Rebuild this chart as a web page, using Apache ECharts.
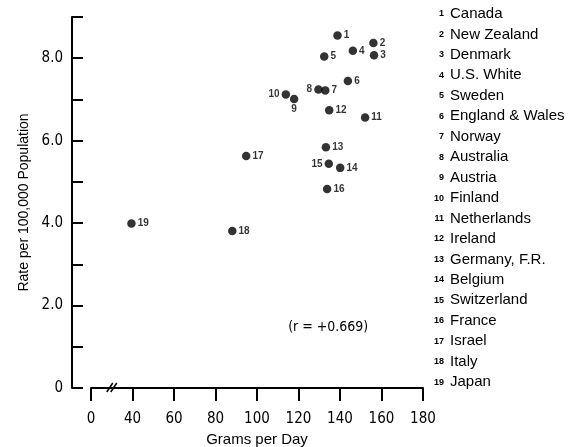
<!DOCTYPE html>
<html>
<head>
<meta charset="utf-8">
<script src="https://cdn.jsdelivr.net/npm/echarts@6/dist/echarts.min.js"></script>
<style>
  html, body { margin: 0; padding: 0; background: #fff; }
  #chart { width: 574px; height: 447px; }
</style>
</head>
<body>
<div id="chart"></div>
<script>
// country names, numbered 1..19 as in the key
const countries = ['Canada', 'New Zealand', 'Denmark', 'U.S. White', 'Sweden', 'England & Wales', 'Norway',
  'Australia', 'Austria', 'Finland', 'Netherlands', 'Ireland', 'Germany, F.R.', 'Belgium', 'Switzerland',
  'France', 'Israel', 'Italy', 'Japan']
// grams per day (x)
const grams = [138.8, 156.1, 156.4, 146.2, 132.4, 143.8, 132.9, 129.6, 117.9, 113.9, 152.1, 134.8,
  133.2, 140.1, 134.6, 133.8, 94.8, 88.1, 39.5]
// rate per 100,000 population (y)
const rates = [8.55, 8.37, 8.07, 8.18, 8.04, 7.45, 7.22, 7.24, 7.01, 7.12, 6.56, 6.74,
  5.84, 5.34, 5.44, 4.83, 5.63, 3.81, 3.99]
const xTicks = [20, 40, 60, 80, 100, 120, 140, 160, 180] // 20 is drawn as "0" (broken axis)
const yTicks = [0, 2, 4, 6, 8]
const rText = '(r = +0.669)'

const font = 'Liberation Sans, Arial, sans-serif'
const narrow = '"DejaVu Sans Condensed", sans-serif'
// label side for points where the number is not on the right
const labelSide = { 8: 'left', 10: 'left', 15: 'left', 9: 'bottom' }

const chart = echarts.init(document.getElementById('chart'))

const points = countries.map((name, i) => {
  const n = i + 1
  const side = labelSide[n] || 'right'
  return {
    name: name,
    value: [grams[i], rates[i]],
    label: { position: side, distance: side === 'bottom' ? 1 : 2 }
  }
})

chart.setOption({
  animation: false,
  backgroundColor: '#fff',
  grid: { left: 91, right: 151, top: 17, bottom: 59, outerBoundsMode: 'none', containLabel: false },
  xAxis: {
    type: 'value',
    min: 20,
    max: 180,
    interval: 20,
    name: 'Grams per Day',
    nameLocation: 'middle',
    nameGap: 44,
    nameTextStyle: { color: '#000', fontSize: 15, fontFamily: font },
    axisLine: { lineStyle: { color: '#000', width: 2 } },
    axisTick: { show: true, inside: false, length: 13, lineStyle: { color: '#000', width: 2 } },
    axisLabel: {
      color: '#000', fontSize: 15, fontFamily: narrow, margin: 24,
      formatter: v => (v === xTicks[0] ? '0' : String(v))
    },
    splitLine: { show: false }
  },
  yAxis: {
    type: 'value',
    min: 0,
    max: 9,
    interval: 1,
    offset: 19,
    name: 'Rate per 100,000 Population',
    nameLocation: 'middle',
    nameGap: 40,
    nameTextStyle: { color: '#000', fontSize: 14, fontFamily: font },
    axisLine: { show: true, lineStyle: { color: '#000', width: 2 } },
    axisTick: { show: true, inside: true, length: 11, lineStyle: { color: '#000', width: 2 } },
    axisLabel: {
      color: '#000', fontSize: 15, fontFamily: narrow, margin: 9,
      formatter: v => (yTicks.indexOf(v) < 0 ? '' : (v === 0 ? '0' : v.toFixed(1)))
    },
    splitLine: { show: false }
  },
  series: [{
    type: 'scatter',
    symbol: 'circle',
    symbolSize: 8.5,
    itemStyle: { color: '#000' },
    label: {
      show: true,
      formatter: p => String(p.dataIndex + 1),
      color: '#000',
      fontSize: 10,
      fontWeight: 'bold',
      fontFamily: font
    },
    data: points
  }]
})

// decorations that depend on the axes: axis break, r value, key
const gx = v => chart.convertToPixel({ xAxisIndex: 0 }, v)
const gy = v => chart.convertToPixel({ yAxisIndex: 0 }, v)
const y0 = gy(0)
const bx = gx(30)
const elements = [
  { type: 'rect', shape: { x: bx - 4, y: y0 - 3, width: 9, height: 6 }, style: { fill: '#fff' } },
  { type: 'line', shape: { x1: bx - 5, y1: y0 + 4, x2: bx + 1, y2: y0 - 5 }, style: { stroke: '#000', lineWidth: 1.5 } },
  { type: 'line', shape: { x1: bx - 1, y1: y0 + 4, x2: bx + 5, y2: y0 - 5 }, style: { stroke: '#000', lineWidth: 1.5 } },
  {
    type: 'text', x: gx(115), y: gy(1.46),
    style: { text: rText, fill: '#000', font: '14px ' + narrow, textVerticalAlign: 'middle' }
  }
]
countries.forEach((name, i) => {
  const y = 14 + i * 20.45
  elements.push({
    type: 'text', x: 444, y: y,
    style: { text: String(i + 1), fill: '#000', font: 'bold 9px ' + font, textAlign: 'right', textVerticalAlign: 'middle' }
  })
  elements.push({
    type: 'text', x: 450, y: y,
    style: { text: name, fill: '#000', font: '15px ' + font, textVerticalAlign: 'middle' }
  })
})
chart.setOption({ graphic: { elements: elements } })
</script>
</body>
</html>
